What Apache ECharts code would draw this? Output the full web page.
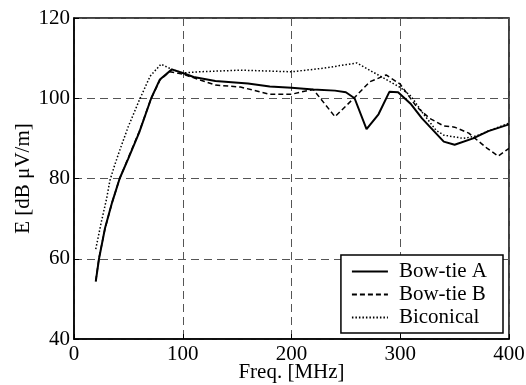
<!DOCTYPE html>
<html>
<head>
<meta charset="utf-8">
<script src="https://cdn.jsdelivr.net/npm/echarts@6/dist/echarts.min.js"></script>
<style>html,body{margin:0;padding:0;background:#fff;}#c{width:526px;height:385px;}</style>
</head>
<body>
<div id="c"></div>
<script>
const xTicks = [0, 100, 200, 300, 400];
const yTicks = [40, 60, 80, 100, 120];
const seriesNames = ['Bow-tie A', 'Bow-tie B', 'Biconical'];

const freqA = [20, 23, 28.5, 35, 42, 50, 60, 71, 79, 90, 100, 110, 130, 160, 180, 200, 220, 240, 250, 258, 269, 280, 290, 298, 310, 320, 340, 350, 367, 381, 400];
const eA    = [54.3, 60, 67.6, 74, 80, 85, 91.5, 100, 104.7, 107.2, 106.3, 105.3, 104.3, 103.7, 102.9, 102.6, 102.2, 101.9, 101.5, 100, 92.3, 96, 101.6, 101.5, 98.5, 95, 89.2, 88.4, 90, 91.8, 93.5];

const freqB = [20, 23, 28.5, 35, 42, 50, 60, 71, 79, 88, 100, 130, 153, 180, 200, 208, 220, 240, 258, 272, 287, 300, 315, 327, 340, 350, 363, 380, 390, 400];
const eB    = [54.5, 60.2, 67.5, 74, 80, 85.2, 91.7, 100, 104.5, 106.6, 106, 103.3, 102.8, 101, 101, 101.5, 102.2, 95.4, 100.2, 104.1, 105.8, 103.5, 97.9, 95, 93.1, 92.8, 91.3, 87.5, 85.6, 87.5];

const freqC = [20, 25, 30, 33, 37, 42, 50, 60, 70, 80, 90, 100, 116, 153, 200, 230, 260, 281, 300, 310, 321, 333, 340, 358, 370, 380, 400];
const eC    = [62.4, 69, 75, 79.5, 83, 87, 93, 99.5, 105.5, 108.5, 107.2, 106.3, 106.6, 107, 106.6, 107.5, 108.8, 105.6, 102.7, 100.5, 96.2, 92, 90.8, 90, 90.6, 91.7, 93.8];

function zip(xs, ys) { return xs.map((x, i) => [x, ys[i]]); }

const font = 'Liberation Serif';
const fs = 21;
const chart = echarts.init(document.getElementById('c'), null, {renderer: 'canvas'});
const gridLine = {show: true, lineStyle: {color: '#555', width: 1, type: [8, 5]}};
chart.setOption({
  animation: false,
  backgroundColor: '#fff',
  grid: {left: 74, right: 17, top: 18, bottom: 46, outerBoundsMode: 'none', containLabel: false,
         show: true, borderColor: '#000', borderWidth: 1.5, backgroundColor: 'transparent'},
  xAxis: {
    type: 'value', min: xTicks[0], max: xTicks[xTicks.length - 1], interval: 100,
    name: 'Freq. [MHz]', nameLocation: 'middle', nameGap: 23, nameMoveOverlap: false,
    nameTextStyle: {fontFamily: font, fontSize: fs, color: '#000'},
    axisLine: {show: true, lineStyle: {color: '#000', width: 1.5}},
    axisTick: {show: true, inside: true, length: 5, lineStyle: {color: '#000'}},
    axisLabel: {fontFamily: font, fontSize: fs, color: '#000', margin: 5},
    splitLine: gridLine
  },
  yAxis: {
    type: 'value', min: yTicks[0], max: yTicks[yTicks.length - 1], interval: 20,
    name: 'E [dB μV/m]', nameLocation: 'middle', nameGap: 40, nameMoveOverlap: false,
    nameTextStyle: {fontFamily: font, fontSize: fs, color: '#000'},
    axisLine: {show: true, lineStyle: {color: '#000', width: 1.5}},
    axisTick: {show: true, inside: true, length: 5, lineStyle: {color: '#000'}},
    axisLabel: {fontFamily: font, fontSize: fs, color: '#000', margin: 4},
    splitLine: gridLine
  },
  legend: {
    data: seriesNames,
    orient: 'vertical', right: 23, bottom: 52,
    backgroundColor: '#fff', borderColor: '#000', borderWidth: 1.5, borderRadius: 0,
    padding: [6, 16, 5, 10],
    itemWidth: 36, itemHeight: 14, itemGap: 2,
    itemStyle: {opacity: 0, borderWidth: 0},
    textStyle: {fontFamily: font, fontSize: fs, color: '#000', lineHeight: 21, padding: [0, 0, 0, 6]}
  },
  series: [
    {name: seriesNames[0], type: 'line', data: zip(freqA, eA), symbol: 'none', smooth: false,
     lineStyle: {color: '#000', width: 2, type: 'solid'}, itemStyle: {color: '#000'}, z: 5},
    {name: seriesNames[1], type: 'line', data: zip(freqB, eB), symbol: 'none', smooth: false,
     lineStyle: {color: '#000', width: 1.5, type: [5, 3]}, itemStyle: {color: '#000'}, z: 4},
    {name: seriesNames[2], type: 'line', data: zip(freqC, eC), symbol: 'none', smooth: false,
     lineStyle: {color: '#000', width: 1.5, type: [1.5, 2]}, itemStyle: {color: '#000'}, z: 3}
  ]
});
</script>
</body>
</html>
